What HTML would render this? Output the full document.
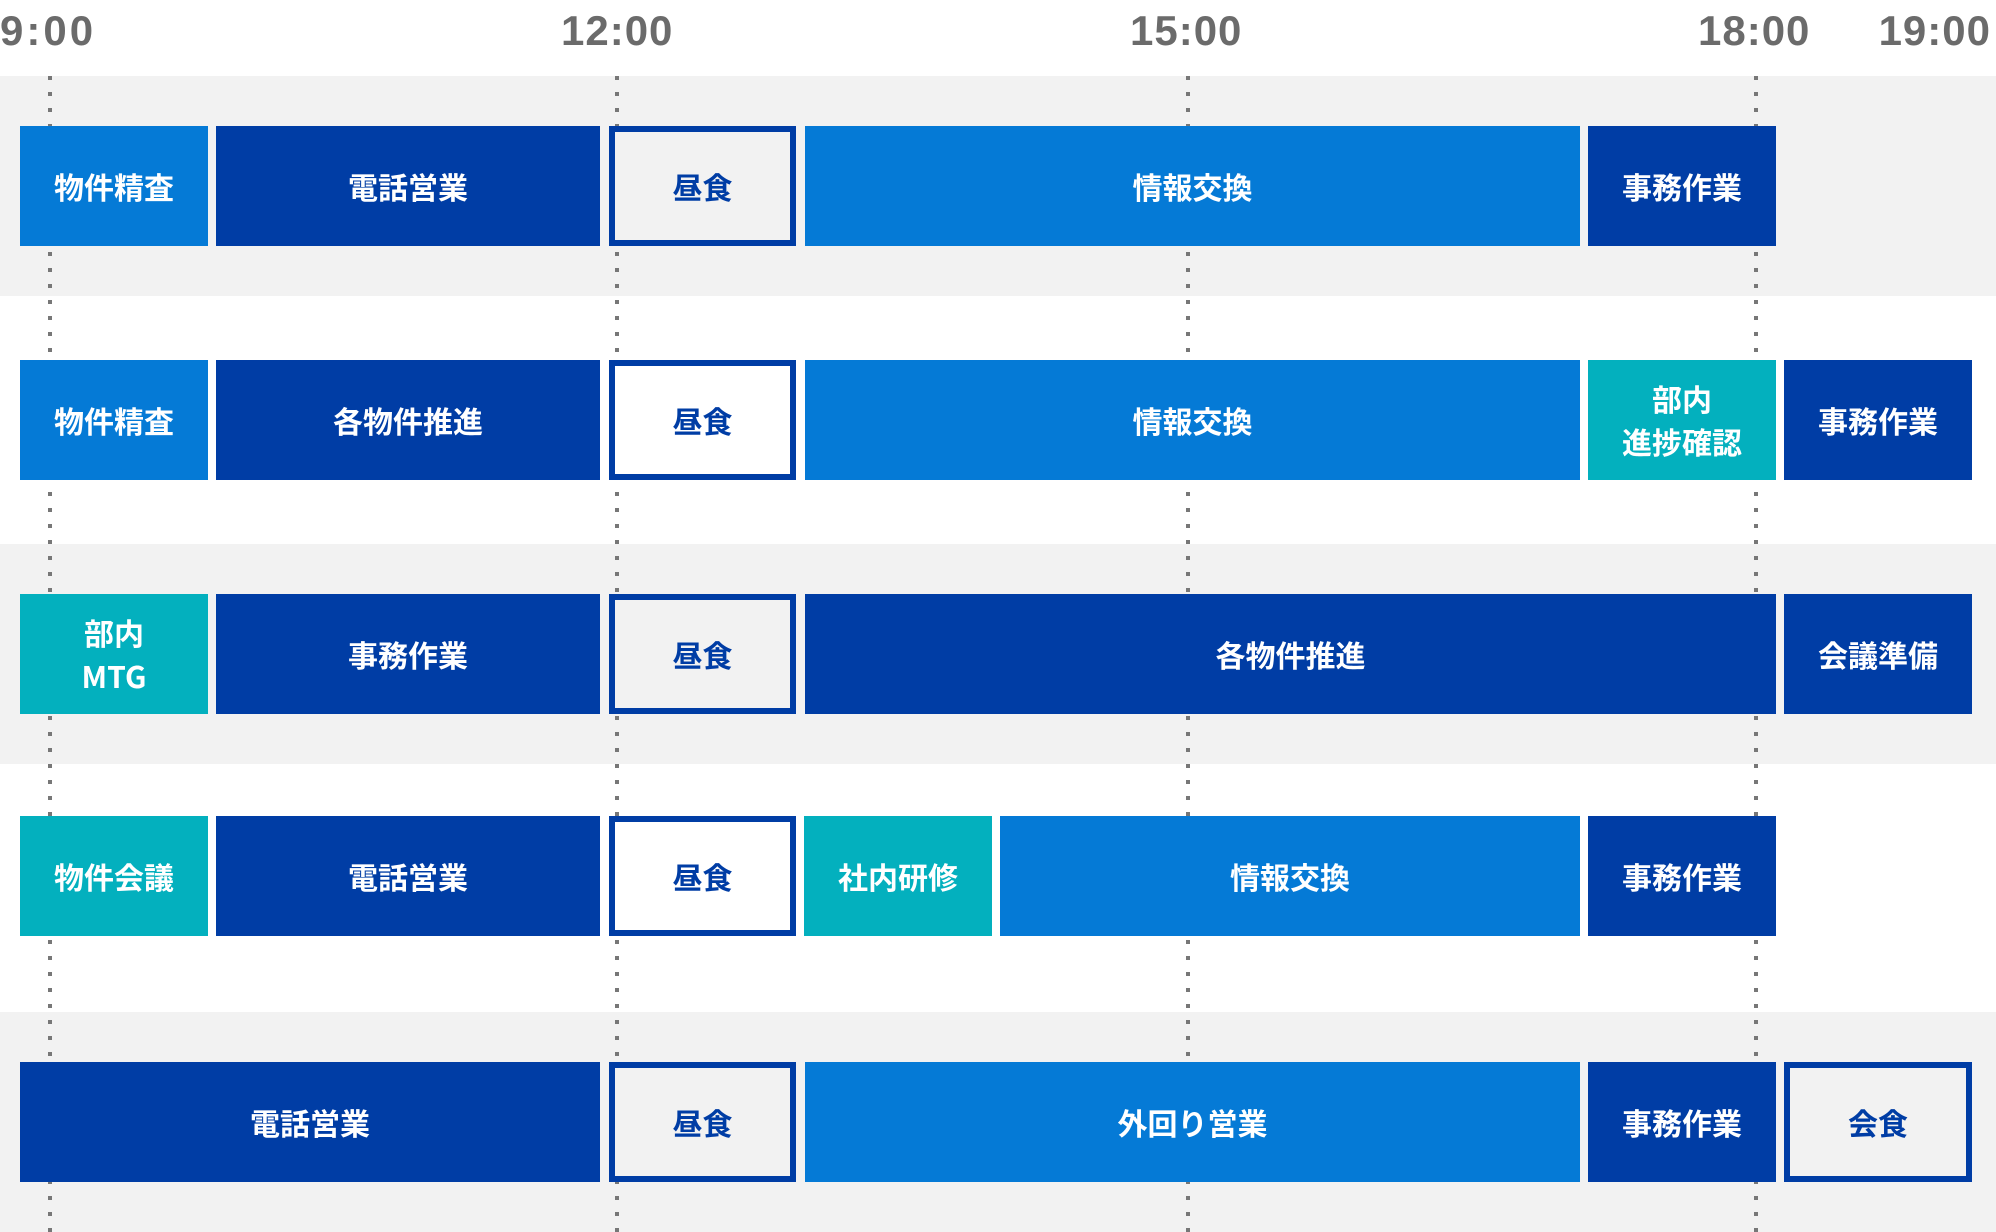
<!DOCTYPE html>
<html><head><meta charset="utf-8"><style>
html,body{margin:0;padding:0;}
body{width:1996px;height:1232px;position:relative;overflow:hidden;background:#fff;font-family:"Liberation Sans","Noto Sans CJK JP",sans-serif;}
.bg{position:absolute;left:0;width:1996px;background:#f2f2f2;}
.t{position:absolute;top:8px;font-size:42px;font-weight:bold;color:#6b6b6b;line-height:46px;letter-spacing:1px;}
.dl{position:absolute;top:76px;width:4px;height:1156px;background:repeating-linear-gradient(to bottom,#777 0 4px,transparent 4px 16px);}
.b{position:absolute;display:flex;align-items:center;justify-content:center;text-align:center;color:#fff;font-family:"Noto Sans CJK JP",sans-serif;font-weight:bold;font-size:30px;line-height:43px;box-sizing:border-box;height:120px;}
.L{background:#057ad6}.D{background:#003da5}.T{background:#03b0be}
.W{border:6px solid #003da5;color:#003da5;background:#f2f2f2;}
.Ww{background:#fff;}
</style></head><body>
<div class="bg" style="top:76px;height:220px"></div>
<div class="bg" style="top:544px;height:220px"></div>
<div class="bg" style="top:1012px;height:220px"></div>

<div class="t" style="left:0;letter-spacing:3px">9:00</div>
<div class="t" style="left:561px">12:00</div>
<div class="t" style="left:1130px">15:00</div>
<div class="t" style="left:1698px">18:00</div>
<div class="t" style="right:5px">19:00</div>

<div class="dl" style="left:48px"></div>
<div class="dl" style="left:615px"></div>
<div class="dl" style="left:1186px"></div>
<div class="dl" style="left:1754px"></div>

<!-- row1 -->
<div class="b L" style="left:20px;width:188px;top:126px">物件精査</div>
<div class="b D" style="left:216px;width:384px;top:126px">電話営業</div>
<div class="b W" style="left:609px;width:187px;top:126px">昼食</div>
<div class="b L" style="left:805px;width:775px;top:126px">情報交換</div>
<div class="b D" style="left:1588px;width:188px;top:126px">事務作業</div>
<!-- row2 -->
<div class="b L" style="left:20px;width:188px;top:360px">物件精査</div>
<div class="b D" style="left:216px;width:384px;top:360px">各物件推進</div>
<div class="b W Ww" style="left:609px;width:187px;top:360px">昼食</div>
<div class="b L" style="left:805px;width:775px;top:360px">情報交換</div>
<div class="b T" style="left:1588px;width:188px;top:360px">部内<br>進捗確認</div>
<div class="b D" style="left:1784px;width:188px;top:360px">事務作業</div>
<!-- row3 -->
<div class="b T" style="left:20px;width:188px;top:594px">部内<br>MTG</div>
<div class="b D" style="left:216px;width:384px;top:594px">事務作業</div>
<div class="b W" style="left:609px;width:187px;top:594px">昼食</div>
<div class="b D" style="left:805px;width:971px;top:594px">各物件推進</div>
<div class="b D" style="left:1784px;width:188px;top:594px">会議準備</div>
<!-- row4 -->
<div class="b T" style="left:20px;width:188px;top:816px">物件会議</div>
<div class="b D" style="left:216px;width:384px;top:816px">電話営業</div>
<div class="b W Ww" style="left:609px;width:187px;top:816px">昼食</div>
<div class="b T" style="left:804px;width:188px;top:816px">社内研修</div>
<div class="b L" style="left:1000px;width:580px;top:816px">情報交換</div>
<div class="b D" style="left:1588px;width:188px;top:816px">事務作業</div>
<!-- row5 -->
<div class="b D" style="left:20px;width:580px;top:1062px">電話営業</div>
<div class="b W" style="left:609px;width:187px;top:1062px">昼食</div>
<div class="b L" style="left:805px;width:775px;top:1062px">外回り営業</div>
<div class="b D" style="left:1588px;width:188px;top:1062px">事務作業</div>
<div class="b W" style="left:1784px;width:188px;top:1062px">会食</div>
</body></html>
